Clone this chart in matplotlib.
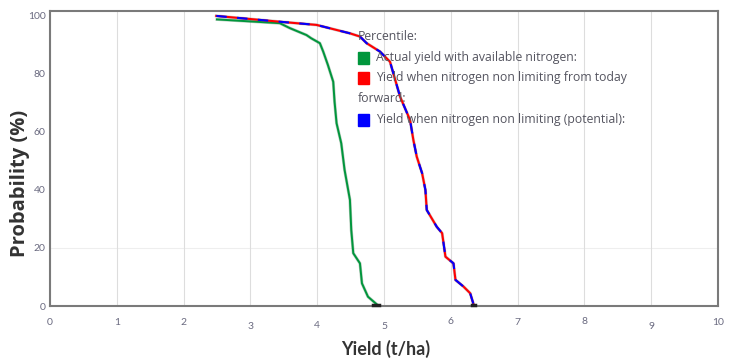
import matplotlib
matplotlib.use("Agg")
import matplotlib.pyplot as plt
from matplotlib.transforms import offset_copy

# Data
actual_x = [2.50, 3.44, 3.59, 3.84, 3.91, 4.04, 4.09, 4.16, 4.24, 4.26, 4.29, 4.36,
            4.41, 4.49, 4.51, 4.54, 4.64, 4.67, 4.76, 4.89]
actual_y = [98.8, 97.5, 95.8, 93.4, 92.3, 90.6, 87.7, 83.1, 77.3, 70.4, 63.0, 56.1,
            46.9, 36.6, 26.2, 18.2, 14.7, 7.8, 3.2, 0.6]
today_x = [2.49, 3.44, 3.99, 4.49, 4.64, 4.74, 4.94, 5.09, 5.19, 5.24, 5.39, 5.44,
           5.49, 5.57, 5.62, 5.64, 5.79, 5.87, 5.92, 6.04, 6.07, 6.19, 6.29, 6.34]
today_y = [100.0, 98.0, 96.9, 94.0, 92.9, 90.6, 87.7, 84.2, 76.2, 72.2, 64.1, 57.2,
           51.5, 45.8, 40.0, 33.1, 27.3, 25.1, 17.0, 14.7, 9.0, 6.7, 4.4, 0.6]
potential_x = today_x
potential_y = today_y

x_ticks = [0, 1, 2, 3, 4, 5, 6, 7, 8, 9, 10]
x_tick_labels = ["0", "1", "2", "3", "4", "5", "6", "7", "8", "9", "10"]
y_ticks = [0, 20, 40, 60, 80, 100]
y_tick_labels = ["0", "20", "40", "60", "80", "100"]
legend_title = "Percentile:"
legend_labels = ["Actual yield with available nitrogen:",
                 "Yield when nitrogen non limiting from today\nforward:",
                 "Yield when nitrogen non limiting (potential):"]
colors = ["#00963c", "#ff0000", "#0000ff"]

plt.rcParams['font.family'] = ['Lato', 'DejaVu Sans']

fig = plt.figure(figsize=(7.3, 3.6), dpi=100)
ax = fig.add_axes([50 / 730, 54 / 360, 668 / 730, 295 / 360])
ax.set_xlim(0, 10)
ax.set_ylim(0, 101.7)

for s in ax.spines.values():
    s.set_color("#7a7a7a")
    s.set_linewidth(1.5)

ax.set_xticks(x_ticks)
ax.set_xticklabels([])
ax.set_yticks(y_ticks)
ax.set_yticklabels(y_tick_labels, color="#6a6a80", fontsize=7.5)
ax.tick_params(axis='both', length=0, pad=3)
ax.grid(axis='x', color="#dddddd", linewidth=0.8)
ax.axhline(20, color="#eeeeee", linewidth=0.8, zorder=0)

# staggered x tick labels
x_offsets = [-12, -12, -12, -15, -14, -15, -11, -12, -11, -15, -12]
for xv, lab, off in zip(x_ticks, x_tick_labels, x_offsets):
    tr = offset_copy(ax.get_xaxis_transform(), fig=fig, x=0, y=off, units='points')
    ax.text(xv, 0, lab, transform=tr, ha='center', va='center', fontsize=7.5,
            color="#6a6a80", clip_on=False)

ax.plot(actual_x, actual_y, color="#1a5a2a", linewidth=2.2, alpha=0.3, zorder=2)
ax.plot(actual_x, actual_y, color=colors[0], linewidth=1.4, zorder=3)
ax.plot(today_x, today_y, color="#333333", linewidth=2.2, alpha=0.25, zorder=2)
ax.plot(today_x, today_y, color=colors[1], linewidth=1.5, zorder=3)
ax.plot(potential_x, potential_y, color=colors[2], linewidth=1.5, zorder=4,
        dashes=(5, 5))
ax.plot([actual_x[-1] - 0.06, actual_x[-1] + 0.03], [0.3, 0.3], color="#222222",
        linewidth=2.5, zorder=5, clip_on=False)
ax.plot([today_x[-1] - 0.02, today_x[-1] + 0.02], [0.3, 0.3], color="#222222",
        linewidth=2.5, zorder=5, clip_on=False)

ax.set_ylabel("Probability (%)", fontsize=14.5, fontweight='bold', color="#333333",
              family=['Open Sans', 'DejaVu Sans'])
ax.yaxis.set_label_coords(-20 / 668, (306 - 183) / 295)
fig.text(386 / 730, 1 - 349 / 360, "Yield (t/ha)", ha='center', va='center',
         fontsize=13, fontweight='bold', color="#333333",
         family=['Lato', 'DejaVu Sans'])

# legend
tc = "#555560"
fs = 8.8
lfam = ['Open Sans', 'DejaVu Sans']
fig.text(358 / 730, 1 - 37 / 360, legend_title, fontsize=fs, color=tc, va='center',
         family=lfam)
rows = [58, 78, 120]
for lab, col, ry in zip(legend_labels, colors, rows):
    fig.patches.append(plt.Rectangle((358 / 730, 1 - (ry + 6) / 360), 11 / 730, 12 / 360,
                                     transform=fig.transFigure, color=col, zorder=5))
    lines = lab.split("\n")
    fig.text(376 / 730, 1 - ry / 360, lines[0], fontsize=fs, color=tc, va='center',
             family=lfam)
    if len(lines) > 1:
        fig.text(358 / 730, 1 - (ry + 20) / 360, lines[1], fontsize=fs, color=tc,
                 va='center', family=lfam)

fig.savefig("out.png", dpi=100)
